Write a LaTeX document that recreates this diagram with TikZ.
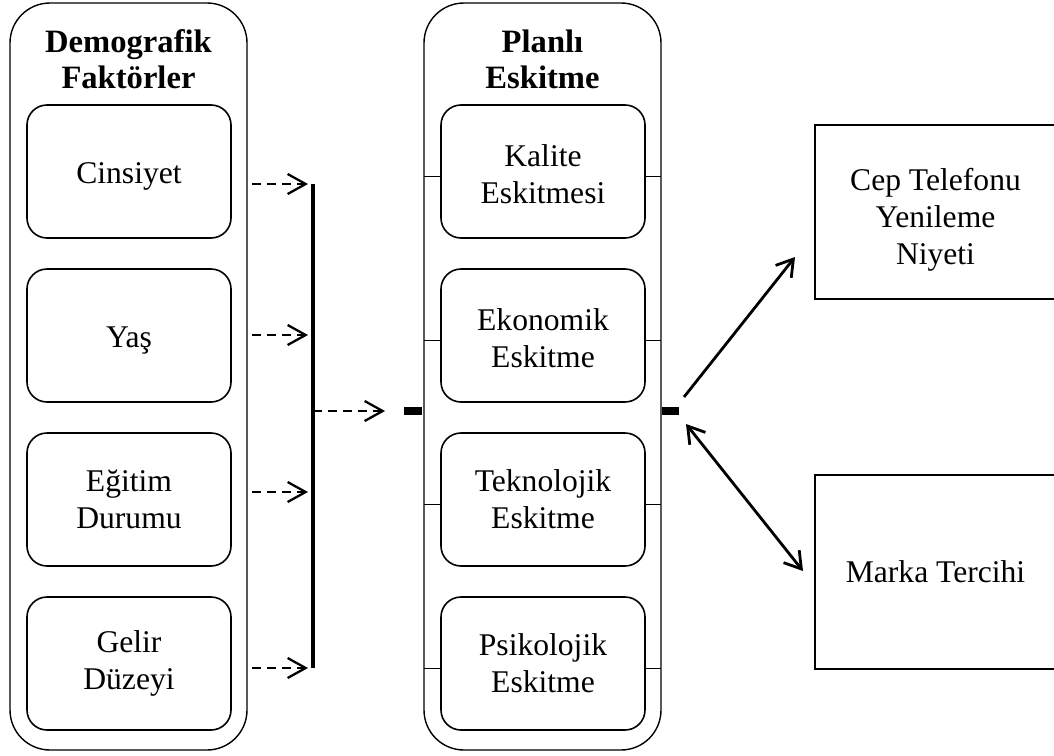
\documentclass[tikz,border=0pt]{standalone}
\usepackage{fontspec}
\setmainfont{Liberation Serif}
\usetikzlibrary{
    arrows.meta,
    positioning,
    calc
}

\begin{document}
\begin{tikzpicture}[
            x=0.5pt, y=-0.5pt,
            font=\fontsize{15.8}{18.5}\selectfont,
            outer_panel/.style={rectangle, draw, line width=0.7pt, rounded corners=20pt, minimum width=118.5pt, minimum height=373.5pt, inner sep=0pt, outer sep=0pt},
            factor_box/.style={rectangle, draw, line width=0.8pt, rounded corners=10pt, minimum width=102pt, minimum height=66.5pt, text centered, align=center, inner sep=2pt, outer sep=0pt},
            single_line/.style={text height=15pt, text depth=3.5pt},
            heading_text/.style={align=center, font=\fontsize{16.3}{18}\selectfont\bfseries},
            result_box/.style={rectangle, draw, line width=0.8pt, minimum width=120.5pt, align=center, outer sep=0pt},
            dashed_arrow/.style={-{Straight Barb[length=9pt,width=10pt]}, line width=1.15pt, dash pattern=on 4.5pt off 3pt},
            main_flow_arrow/.style={-{Straight Barb[length=8pt,width=10pt]}, line width=1.4pt},
            both_flow_arrow/.style={{Straight Barb[length=8pt,width=10pt]}-{Straight Barb[length=8pt,width=10pt]}, line width=1.4pt},
            tick_line/.style={line width=0.7pt},
            thick_mark/.style={line width=3.8pt}
        ]

        \clip (0,0) rectangle (1054,755);

        % the two panels
        \node[outer_panel] (demo_panel) at (128.5,376.5) {};
        \node[outer_panel] (plan_panel) at (542.5,376.5) {};
        \node[heading_text] (demo_title) at (128.5,59) {Demografik\\Faktörler};
        \node[heading_text] (plan_title) at (542.5,59) {Planlı\\Eskitme};

        \node[factor_box, single_line] (cinsiyet) at (129,171.5) {Cinsiyet};
        \node[factor_box, single_line, below=15.5pt of cinsiyet] (yas) {Yaş};
        \node[factor_box, below=15.5pt of yas] (egitim) {Eğitim\\Durumu};
        \node[factor_box, below=15.5pt of egitim] (gelir) {Gelir\\Düzeyi};

        \node[factor_box] (kalite) at (543,171.5) {\rule{0pt}{14pt}Kalite\\Eskitmesi};
        \node[factor_box, below=15.5pt of kalite] (ekonomik) {\rule{0pt}{14pt}Ekonomik\\Eskitme};
        \node[factor_box, below=15.5pt of ekonomik] (teknolojik) {Teknolojik\\Eskitme};
        \node[factor_box, below=15.5pt of teknolojik] (psikolojik) {Psikolojik\\Eskitme};

        \foreach \n in {kalite, ekonomik, teknolojik, psikolojik} {
            \draw[tick_line] ($(\n.west)+(0,5)$) -- ($(\n.west -| plan_panel.west)+(0,5)$);
            \draw[tick_line] ($(\n.east)+(0,5)$) -- ($(\n.east -| plan_panel.east)+(0,5)$);
        }

        % outcomes
        \node[result_box, minimum height=87pt] (cep) at (935.5,212) {\rule{0pt}{19pt}Cep Telefonu\\Yenileme\\Niyeti};
        \node[result_box, minimum height=97pt] (marka) at (935.5,572) {Marka Tercihi};

        % collecting bar
        \coordinate (bar_top) at (313,184);
        \coordinate (in_yas) at (313,335);
        \coordinate (in_egitim) at (313,492);
        \coordinate (bar_bot) at (313,668);
        \coordinate (bar_mid) at (313,411);
        \draw[line width=2pt] (bar_top) -- (bar_bot);

        \foreach \c in {bar_top, in_yas, in_egitim, bar_bot}
            \draw[dashed_arrow, shorten <=2.5pt, shorten >=2.5pt] (demo_panel.east |- \c) -- (\c);

        \coordinate (plan_in) at (plan_panel.west |- bar_mid);
        \coordinate (plan_out) at (plan_panel.east |- bar_mid);
        \draw[thick_mark] ([xshift=-10pt]plan_in) -- ([xshift=-1pt]plan_in);
        \draw[thick_mark] ([xshift=0.5pt]plan_out) -- ([xshift=9pt]plan_out);
        \draw[dashed_arrow, shorten >=19.5pt] (bar_mid) -- (plan_in);

        \draw[main_flow_arrow] ([shift={(23,-14)}]plan_out) -- ([shift={(-20,45)}]cep.west);
        \draw[both_flow_arrow] ([shift={(25,13)}]plan_out) -- ([shift={(-12,-1)}]marka.west);

        \end{tikzpicture}
\end{document}
